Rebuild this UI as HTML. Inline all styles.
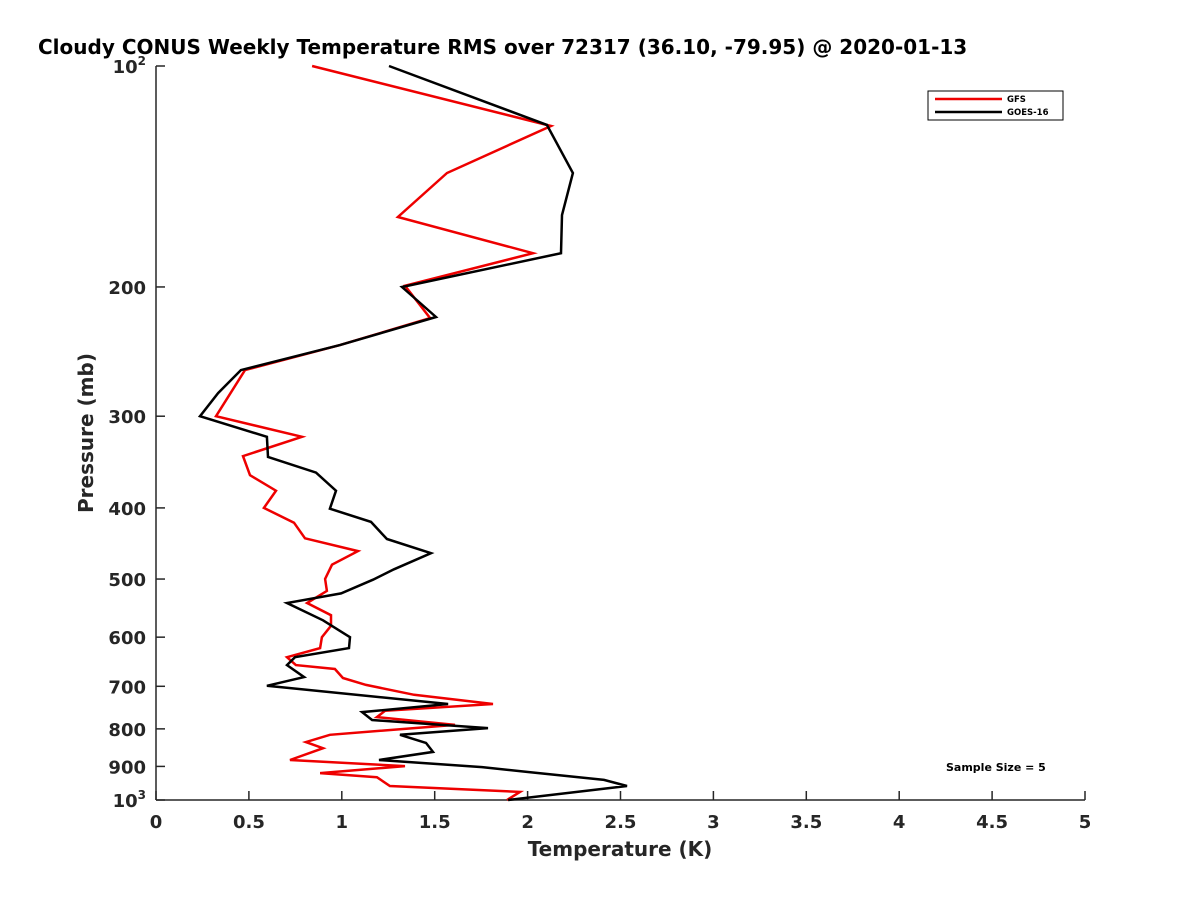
<!DOCTYPE html>
<html><head><meta charset="utf-8"><style>body{margin:0;background:#fff}svg{display:block;font-family:"DejaVu Sans","Liberation Sans",sans-serif}</style></head>
<body>
<svg id="chart" width="1200" height="900" xmlns="http://www.w3.org/2000/svg">
<rect width="1200" height="900" fill="#fff"/>
<text x="38" y="54" font-size="20" font-weight="bold" fill="#000">Cloudy CONUS Weekly Temperature RMS over 72317 (36.10, -79.95) @ 2020-01-13</text>
<g id="axes"></g>
<g id="series"></g>
<g>
<rect x="928" y="91" width="135" height="29" fill="#fff" stroke="#000" stroke-width="1"/>
<line x1="935" y1="99" x2="1002" y2="99" stroke="#e00" stroke-width="2.5"/>
<text x="1007" y="102" font-size="8.5" font-weight="bold">GFS</text>
<line x1="935" y1="112" x2="1002" y2="112" stroke="#000" stroke-width="2.5"/>
<text x="1007" y="115" font-size="8.5" font-weight="bold">GOES-16</text>
</g>
<text x="946" y="771" font-size="11" font-weight="bold">Sample Size = 5</text>
<text x="620" y="856" font-size="20" font-weight="bold" text-anchor="middle" fill="#262626">Temperature (K)</text>
<text transform="translate(93,433) rotate(-90)" font-size="20" font-weight="bold" text-anchor="middle" fill="#262626">Pressure (mb)</text>
</svg>
<script>
const xTicks=[0,0.5,1,1.5,2,2.5,3,3.5,4,4.5,5];
const xTickLabels=["0","0.5","1","1.5","2","2.5","3","3.5","4","4.5","5"];
const yTicks=[100,200,300,400,500,600,700,800,900,1000];
const yTickLabels=["10^2","200","300","400","500","600","700","800","900","10^3"];
const gfsPressure=[100,120.7,139.9,160.6,179.9,199.3,220.5,240,259.6,300,320,340,361,379,400,419,440,458,478,500,519,539,560,579,600,621,639,655,663,682,697,719,740,756,771,790,815,834,850,882,899,919,931,957,975,1000];
const gfsRms=[0.840,2.126,1.566,1.302,2.029,1.340,1.475,0.990,0.479,0.323,0.786,0.468,0.506,0.646,0.581,0.743,0.802,1.087,0.947,0.910,0.920,0.813,0.942,0.942,0.893,0.883,0.705,0.753,0.963,1.006,1.130,1.389,1.814,1.233,1.189,1.609,0.936,0.807,0.899,0.721,1.340,0.883,1.189,1.259,1.959,1.889];
const goesPressure=[100,120.3,139.9,159.6,179.9,200,219.8,240,259.6,279,300,320,341,358,379,401,418,441,461,485,501,523,539,569,600,621,639,655,680,699,740,759,778,798,815,836,860,882,902,916,939,957,1000];
const goesRms=[1.254,2.104,2.244,2.185,2.180,1.324,1.507,0.990,0.457,0.334,0.237,0.597,0.603,0.861,0.969,0.936,1.157,1.243,1.480,1.281,1.168,0.996,0.705,0.899,1.044,1.039,0.748,0.705,0.797,0.597,1.572,1.109,1.163,1.787,1.313,1.453,1.491,1.200,1.755,2.002,2.411,2.535,1.895];
const X0=156,X1=1085,Y0=66,Y1=800;
const xs=v=>X0+(v-0)/(5-0)*(X1-X0);
const ys=p=>Y0+(Math.log10(p)-2)*(Y1-Y0);
const NS="http://www.w3.org/2000/svg";
function mk(t,a,parent){const e=document.createElementNS(NS,t);for(const k in a)e.setAttribute(k,a[k]);parent.appendChild(e);return e;}
const ax=document.getElementById('axes');
const axL=mk('line',{x1:X0,y1:Y0,x2:X0,y2:Y1,stroke:'#262626','stroke-width':1.5},ax);


const axB=mk('line',{x1:X0,y1:Y1,x2:X1,y2:Y1,stroke:'#262626','stroke-width':1.5},ax);


xTicks.forEach((v,i)=>{
 const x=xs(v);
 mk('line',{x1:x,y1:Y1,x2:x,y2:Y1-9,stroke:'#262626','stroke-width':1.5},ax);
 const t=mk('text',{x:x,y:Y1+28,'font-size':18,'font-weight':'bold','text-anchor':'middle',fill:'#262626'},ax);
 t.textContent=xTickLabels[i];
 
 
});
yTicks.forEach((p,i)=>{
 const y=ys(p);
 mk('line',{x1:X0,y1:y,x2:X0+9,y2:y,stroke:'#262626','stroke-width':1.5},ax);
 const lab=yTickLabels[i];
 const t=mk('text',{x:X0-10,y:y+7,'font-size':18,'font-weight':'bold','text-anchor':'end',fill:'#262626'},ax);
 
 
 if(lab.indexOf('^')>0){
  const [b,e]=lab.split('^');
  const t1=mk('tspan',{},t); t1.textContent=b;
  const t2=mk('tspan',{dy:-8,'font-size':12},t); t2.textContent=e;
 } else t.textContent=lab;
});
const sg=document.getElementById('series');
function line(pr,val,color,name){
 const d=pr.map((p,i)=>(i?'L':'M')+xs(val[i]).toFixed(1)+','+ys(p).toFixed(1)).join('');
 const e=mk('path',{d:d,fill:'none',stroke:color,'stroke-width':2.5,'stroke-linejoin':'miter'},sg);
 
 
}
line(gfsPressure,gfsRms,'#e00','gfs-line');
line(goesPressure,goesRms,'#000','goes16-line');
</script>
</body></html>
